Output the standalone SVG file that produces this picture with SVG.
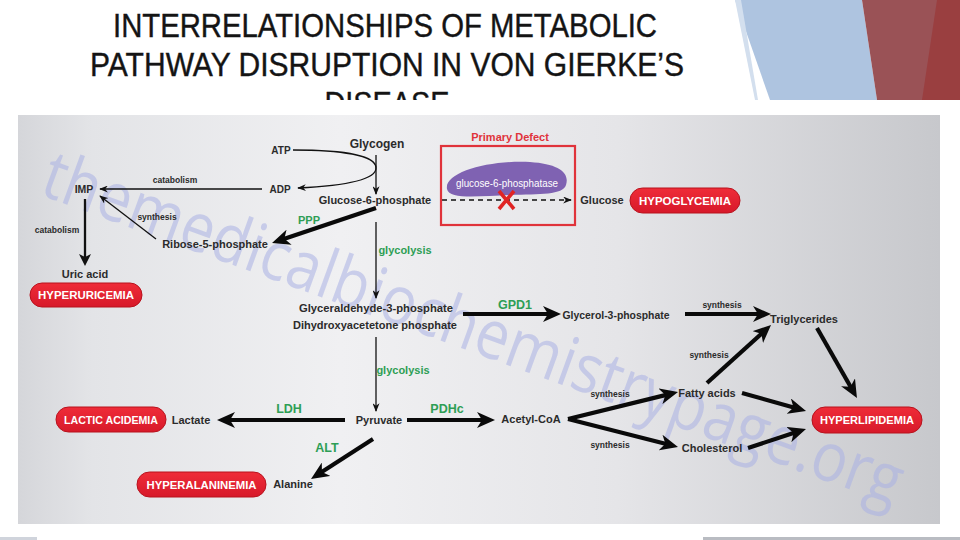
<svg xmlns="http://www.w3.org/2000/svg" width="960" height="540" viewBox="0 0 960 540">
<defs>
<style>
.t{font-family:"Liberation Sans",Arial,sans-serif;font-weight:bold;fill:#2b2b2b;text-anchor:middle}
.n{font-size:11px}
.s{font-size:8.5px}
.g{fill:#2e9e55;font-size:11px}
.gb{fill:#2e9e55;font-size:12.5px}
.pt{font-family:"Liberation Sans",Arial,sans-serif;font-weight:bold;fill:#ffffff;font-size:11px;text-anchor:middle}
.pill{fill:url(#pg);stroke:#b8121d;stroke-width:1}
.thin{stroke:#111;stroke-width:1.3;fill:none;marker-end:url(#ah)}
.thick{stroke:#0a0a0a;stroke-width:4.2;fill:none;marker-end:url(#bh)}
.title{font-family:"Liberation Sans Narrow","Liberation Sans",Arial,sans-serif;font-size:33px;fill:#141414;stroke:#141414;stroke-width:0.4;text-anchor:middle}
</style>
<linearGradient id="bg" x1="0" y1="0" x2="1" y2="0">
<stop offset="0" stop-color="#d5d6da"/>
<stop offset="0.08" stop-color="#e3e4e7"/>
<stop offset="0.35" stop-color="#f0f0f2"/>
<stop offset="0.65" stop-color="#e5e5e8"/>
<stop offset="1" stop-color="#c7c8cc"/>
</linearGradient>
<linearGradient id="pg" x1="0" y1="0" x2="0" y2="1">
<stop offset="0" stop-color="#ef2c38"/>
<stop offset="1" stop-color="#d7192a"/>
</linearGradient>
<marker id="ah" viewBox="0 0 10 8" refX="9" refY="4" markerWidth="9" markerHeight="7" markerUnits="userSpaceOnUse" orient="auto">
<path d="M0,0 L10,4 L0,8 L3,4 z" fill="#111"/>
</marker>
<marker id="bh" viewBox="0 0 18 16" refX="8" refY="8" markerWidth="18" markerHeight="16" markerUnits="userSpaceOnUse" orient="auto">
<path d="M0,0 L18,8 L0,16 L5,8 z" fill="#0a0a0a"/>
</marker>
<marker id="mh" viewBox="0 0 12 12" refX="6" refY="6" markerWidth="12" markerHeight="12" markerUnits="userSpaceOnUse" orient="auto">
<path d="M0,0 L12,6 L0,12 L3,6 z" fill="#111"/>
</marker>
<clipPath id="tc"><rect x="0" y="0" width="960" height="100"/></clipPath>
</defs>

<rect width="960" height="540" fill="#ffffff"/>

<g id="decor">
<polygon points="735,0 862,0 877,100 770,100" fill="#aec4e0"/>
<polygon points="735,0 741,0 758,100 755,100" fill="#d3dfee"/>
<polygon points="862,0 960,0 960,100 877,100" fill="#9a5256"/>
<polygon points="937,0 960,0 960,100 922,100" fill="#9a3f40"/>
<rect x="0" y="537" width="37" height="3" fill="#d0d4dc"/>
<rect x="703" y="537" width="257" height="3" fill="#b9bcc2"/>
</g>

<g id="title" clip-path="url(#tc)">
<text class="title" x="385" y="37" textLength="544" lengthAdjust="spacingAndGlyphs">INTERRELATIONSHIPS OF METABOLIC</text>
<text class="title" x="387" y="76" textLength="594" lengthAdjust="spacingAndGlyphs">PATHWAY DISRUPTION IN VON GIERKE’S</text>
<text class="title" x="387" y="115" textLength="125" lengthAdjust="spacingAndGlyphs">DISEASE</text>
</g>

<rect id="panel" x="18" y="115" width="922" height="409" fill="url(#bg)"/>

<text id="watermark" x="38" y="194" transform="rotate(20 38 194)" font-family="Open Sans, DejaVu Sans, sans-serif" font-size="68" fill="#a9b0e4" fill-opacity="0.55" textLength="910" lengthAdjust="spacingAndGlyphs">themedicalbiochemistrypage.org</text>

<g id="connectors">
<path class="thin" d="M293,150 C340,150 376,155 376,168 C376,181 340,186 298,188" stroke-width="1.6"/>
<line class="thin" x1="376" y1="155" x2="376" y2="194"/>
<line class="thin" x1="262" y1="189" x2="100" y2="189"/>
<line class="thin" x1="156" y1="239" x2="100" y2="196"/>
<line x1="85" y1="199" x2="85" y2="260" stroke="#111" stroke-width="2.3" marker-end="url(#mh)"/>
<line class="thin" x1="376" y1="222" x2="376" y2="298"/>
<line class="thin" x1="376" y1="337" x2="376" y2="411"/>
<line x1="442" y1="200" x2="571" y2="200" stroke="#111" stroke-width="1.5" stroke-dasharray="5,4" marker-end="url(#ah)"/>
<line class="thick" x1="376" y1="208" x2="281.5" y2="239.8"/>
<line class="thick" x1="463" y1="314" x2="551" y2="314"/>
<line class="thick" x1="685" y1="314" x2="761" y2="314"/>
<line class="thick" x1="707" y1="383" x2="763.6" y2="331.7"/>
<line class="thick" x1="742" y1="393" x2="796.4" y2="408.3"/>
<line class="thick" x1="817" y1="328" x2="852" y2="389.3"/>
<line class="thick" x1="748" y1="448" x2="796.5" y2="432.1"/>
<line class="thick" x1="568" y1="419" x2="668.3" y2="394.4"/>
<line class="thick" x1="568" y1="419" x2="668.3" y2="444.5"/>
<line class="thick" x1="345" y1="420" x2="227" y2="420"/>
<line class="thick" x1="407" y1="420" x2="485" y2="420"/>
<line class="thick" x1="373" y1="439" x2="319.4" y2="473.6"/>
</g>

<g id="edge-labels">
<text class="t s" x="175" y="183">catabolism</text>
<text class="t s" x="157" y="220">synthesis</text>
<text class="t s" x="57" y="233">catabolism</text>
<text class="t g" x="309" y="224">PPP</text>
<text class="t g" x="405" y="254">glycolysis</text>
<text class="t gb" x="515" y="309">GPD1</text>
<text class="t s" x="722" y="308">synthesis</text>
<text class="t s" x="709" y="358">synthesis</text>
<text class="t g" x="403" y="374">glycolysis</text>
<text class="t s" x="610" y="397">synthesis</text>
<text class="t s" x="610" y="448">synthesis</text>
<text class="t gb" x="289" y="413">LDH</text>
<text class="t gb" x="447" y="413">PDHc</text>
<text class="t gb" x="327" y="452">ALT</text>
</g>

<g id="glycogen"><text class="t" x="377" y="148" font-size="12">Glycogen</text></g>
<g id="atp"><text class="t" x="281" y="153.5" font-size="10">ATP</text></g>
<g id="adp"><text class="t" x="280" y="192.5" font-size="10">ADP</text></g>
<g id="g6p"><text class="t n" x="375" y="204">Glucose-6-phosphate</text></g>
<g id="imp"><text class="t" x="84" y="192.5" font-size="10.5">IMP</text></g>
<g id="r5p"><text class="t n" x="215" y="248">Ribose-5-phosphate</text></g>
<g id="uric"><text class="t n" x="85" y="278">Uric acid</text></g>
<g id="hyperuricemia">
<rect class="pill" x="30" y="283" width="112" height="24" rx="12"/>
<text class="pt" x="86" y="299" textLength="96" lengthAdjust="spacingAndGlyphs">HYPERURICEMIA</text>
</g>

<g id="primary-defect">
<text class="t" x="510" y="141" font-size="11" style="fill:#e0333b">Primary Defect</text>
<rect x="441" y="146" width="134" height="79" fill="none" stroke="#e0333b" stroke-width="2.2"/>
<path d="M447,189 C444,172 490,160 530,162 C558,164 570,172 566,185 C563,195 540,194 510,195 C480,196 449,200 447,189 Z" fill="#7f62b2"/>
<text x="507" y="187" font-family="Liberation Sans, Arial, sans-serif" font-size="10.5" fill="#ffffff" text-anchor="middle" textLength="102" lengthAdjust="spacingAndGlyphs">glucose-6-phosphatase</text>
<path d="M499,191 L514,209 M514,191 L499,209" stroke="#e02424" stroke-width="3.6" fill="none"/>
</g>

<g id="glucose"><text class="t n" x="602" y="204">Glucose</text></g>
<g id="hypoglycemia">
<rect class="pill" x="630" y="188" width="110" height="25" rx="12.5"/>
<text class="pt" x="685" y="204.5" textLength="92" lengthAdjust="spacingAndGlyphs">HYPOGLYCEMIA</text>
</g>

<g id="g3p">
<text class="t n" x="376" y="312" textLength="154" lengthAdjust="spacingAndGlyphs">Glyceraldehyde-3-phosphate</text>
<text class="t n" x="375" y="329" textLength="164" lengthAdjust="spacingAndGlyphs">Dihydroxyacetetone phosphate</text>
</g>
<g id="glycerol3p"><text class="t n" x="616" y="319" textLength="107" lengthAdjust="spacingAndGlyphs">Glycerol-3-phosphate</text></g>
<g id="triglycerides"><text class="t n" x="804" y="323">Triglycerides</text></g>
<g id="fatty-acids"><text class="t n" x="707" y="397">Fatty acids</text></g>
<g id="cholesterol"><text class="t n" x="712" y="452">Cholesterol</text></g>
<g id="acetyl-coa"><text class="t n" x="531" y="423">Acetyl-CoA</text></g>
<g id="hyperlipidemia">
<rect class="pill" x="812" y="407" width="110" height="26" rx="13"/>
<text class="pt" x="867" y="424" textLength="94" lengthAdjust="spacingAndGlyphs">HYPERLIPIDEMIA</text>
</g>
<g id="pyruvate"><text class="t n" x="379" y="424">Pyruvate</text></g>
<g id="lactate"><text class="t n" x="191" y="424">Lactate</text></g>
<g id="lactic-acidemia">
<rect class="pill" x="56" y="407" width="110" height="25" rx="12.5"/>
<text class="pt" x="111" y="423.5" textLength="94" lengthAdjust="spacingAndGlyphs">LACTIC ACIDEMIA</text>
</g>
<g id="alanine"><text class="t n" x="293" y="488">Alanine</text></g>
<g id="hyperalaninemia">
<rect class="pill" x="137" y="472" width="129" height="25" rx="12.5"/>
<text class="pt" x="201.5" y="488.5" textLength="110" lengthAdjust="spacingAndGlyphs">HYPERALANINEMIA</text>
</g>
</svg>
